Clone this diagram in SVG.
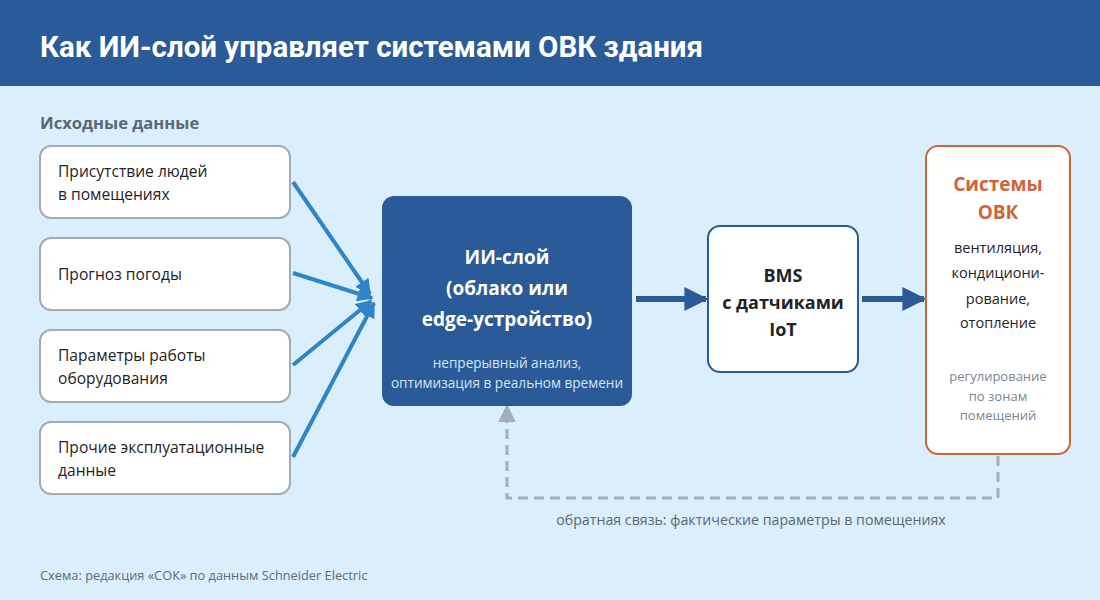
<svg xmlns="http://www.w3.org/2000/svg" width="1100" height="600" viewBox="0 0 1100 600">
<style>
.f{font-family:"Open Sans","Noto Sans","DejaVu Sans",sans-serif}
.in{fill:#fff;stroke:#a3abb3;stroke-width:2}
.it{font-size:15.6px;fill:#1f2328}
.blue{stroke:#2e86c8;stroke-width:4;fill:none}
.dark{stroke:#2a5b98;stroke-width:6;fill:none}
</style>
<defs>
<marker id="ab" viewBox="0 0 10 10" refX="9" refY="5" markerWidth="4" markerHeight="4" orient="auto" markerUnits="strokeWidth"><path d="M0,0 L10,5 L0,10 z" fill="#2e86c8"/></marker>
<marker id="ad" viewBox="0 0 10 10" refX="9" refY="5" markerWidth="4" markerHeight="4" orient="auto" markerUnits="strokeWidth"><path d="M0,0 L10,5 L0,10 z" fill="#2a5b98"/></marker>
<marker id="ag" viewBox="0 0 10 10" refX="9" refY="5" markerWidth="6" markerHeight="6" orient="auto" markerUnits="strokeWidth"><path d="M0,0 L10,5 L0,10 z" fill="#a3aeb8"/></marker>
</defs>
<rect width="1100" height="600" fill="#dbeefb"/>
<rect width="1100" height="86" fill="#2a5b98"/>
<text x="40" y="57" font-family="Roboto,'Liberation Sans',sans-serif" font-weight="bold" font-size="29" fill="#fff" textLength="663" lengthAdjust="spacingAndGlyphs">Как ИИ-слой управляет системами ОВК здания</text>
<text class="f" x="40" y="129" font-size="16.6" font-weight="bold" fill="#5a6876">Исходные данные</text>

<g id="connectors">
<line class="blue" x1="293" y1="182" x2="370" y2="294" marker-end="url(#ab)"/>
<line class="blue" x1="293" y1="273" x2="372" y2="298" marker-end="url(#ab)"/>
<line class="blue" x1="293" y1="365" x2="371" y2="301" marker-end="url(#ab)"/>
<line class="blue" x1="293" y1="457" x2="374" y2="303" marker-end="url(#ab)"/>
<line class="dark" x1="636" y1="299" x2="706" y2="299" marker-end="url(#ad)"/>
<line class="dark" x1="862" y1="299" x2="924" y2="299" marker-end="url(#ad)"/>
<polyline points="998,456 998,498 507,498 507,406" fill="none" stroke="#a3aeb8" stroke-width="3" stroke-dasharray="10,6" marker-end="url(#ag)"/>
<text class="f" x="751" y="525" font-size="14.2" fill="#5a6876" text-anchor="middle">обратная связь: фактические параметры в помещениях</text>
</g>

<g id="in1"><rect class="in" x="40" y="146" width="250" height="72" rx="11"/>
<text class="f it" x="58" y="177">Присутствие людей</text><text class="f it" x="58" y="200">в помещениях</text></g>
<g id="in2"><rect class="in" x="40" y="238" width="250" height="72" rx="11"/>
<text class="f it" x="58" y="280">Прогноз погоды</text></g>
<g id="in3"><rect class="in" x="40" y="330" width="250" height="72" rx="11"/>
<text class="f it" x="58" y="361">Параметры работы</text><text class="f it" x="58" y="384">оборудования</text></g>
<g id="in4"><rect class="in" x="40" y="422" width="250" height="72" rx="11"/>
<text class="f it" x="58" y="453">Прочие эксплуатационные</text><text class="f it" x="58" y="476">данные</text></g>

<g id="ai"><rect x="382" y="196" width="250" height="210" rx="12" fill="#2a5b98"/>
<g class="f" font-size="19" font-weight="bold" fill="#fff" text-anchor="middle">
<text x="507" y="264">ИИ-слой</text><text x="507" y="295">(облако или</text><text x="507" y="326">edge-устройство)</text></g>
<g class="f" font-size="13.6" fill="#d6e4f2" text-anchor="middle">
<text x="507" y="368">непрерывный анализ,</text><text x="507" y="388">оптимизация в реальном времени</text></g></g>

<g id="bms"><rect x="708" y="226" width="150" height="146" rx="12" fill="#fff" stroke="#2a5b98" stroke-width="2"/>
<g class="f" font-size="18" font-weight="bold" fill="#1f2328" text-anchor="middle">
<text x="783" y="282">BMS</text><text x="783" y="309">с датчиками</text><text x="783" y="336">IoT</text></g></g>

<g id="hvac"><rect x="926" y="146" width="144" height="308" rx="12" fill="#fff" stroke="#c8683a" stroke-width="2"/>
<g class="f" font-size="19" font-weight="bold" fill="#d0633a" text-anchor="middle">
<text x="998" y="191">Системы</text><text x="998" y="219">ОВК</text></g>
<g class="f" font-size="14.5" fill="#1f2328" text-anchor="middle">
<text x="998" y="253">вентиляция,</text><text x="998" y="278">кондициони-</text><text x="998" y="304">рование,</text><text x="998" y="328">отопление</text></g>
<g class="f" font-size="13" fill="#7a8590" text-anchor="middle">
<text x="998" y="381">регулирование</text><text x="998" y="401">по зонам</text><text x="998" y="420">помещений</text></g></g>

<text class="f" x="40" y="580" font-size="12.8" fill="#5f6b77">Схема: редакция «СОК» по данным Schneider Electric</text>
</svg>
